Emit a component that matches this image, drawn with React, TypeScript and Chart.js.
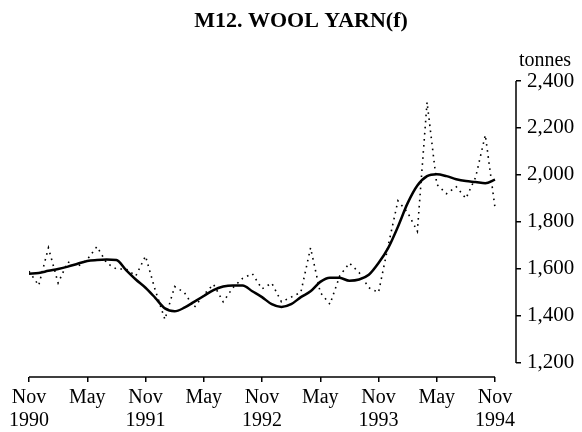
import React, { useEffect, useRef } from "react";
import { Chart, registerables } from "chart.js";

Chart.register(...registerables);

const chartTitle = "M12. WOOL YARN(f)";
const unitLabel = "tonnes";

// Monthly values, Nov 1990 .. Nov 1994 (index 0 .. 48)
const originalSeries = [
  1590, 1530, 1690, 1540, 1630, 1610, 1640, 1695, 1625, 1600, 1600, 1570,
  1655, 1510, 1385, 1525, 1500, 1435, 1490, 1535, 1460, 1520, 1560, 1580,
  1515, 1540, 1460, 1480, 1500, 1690, 1500, 1450, 1570, 1625, 1585, 1520,
  1500, 1700, 1890, 1840, 1760, 2310, 1960, 1920, 1950, 1900, 1990, 2170,
  1860,
];

const trendSeries = [
  1580, 1583, 1592, 1600, 1610, 1622, 1634, 1638, 1640, 1638, 1595, 1555,
  1520, 1477, 1432, 1420, 1435, 1460, 1485, 1510, 1525, 1530, 1530, 1505,
  1480, 1450, 1438, 1450, 1480, 1505, 1545, 1563, 1562, 1550, 1555, 1575,
  1625, 1690, 1780, 1880, 1955, 1995, 2003, 1995, 1982, 1974, 1970, 1965,
  1980,
];

const xTickValues = [0, 6, 12, 18, 24, 30, 36, 42, 48];
const xTickMonths = ["Nov", "May", "Nov", "May", "Nov", "May", "Nov", "May", "Nov"];
const xTickYears = ["1990", "", "1991", "", "1992", "", "1993", "", "1994"];
const yTickValues = [1200, 1400, 1600, 1800, 2000, 2200, 2400];

const FONT = '"Liberation Serif", "Times New Roman", serif';

const customPlugin = {
  id: "customAxesAndText",
  afterDraw(chart: any) {
    const { ctx, chartArea, scales } = chart;
    const x = scales.x;
    const y = scales.y;
    ctx.save();
    ctx.strokeStyle = "#000";
    ctx.lineWidth = 1.5;
    ctx.beginPath();
    ctx.moveTo(x.getPixelForValue(xTickValues[0]), chartArea.bottom);
    ctx.lineTo(x.getPixelForValue(xTickValues[xTickValues.length - 1]), chartArea.bottom);
    ctx.moveTo(chartArea.right, y.getPixelForValue(yTickValues[yTickValues.length - 1]));
    ctx.lineTo(chartArea.right, y.getPixelForValue(yTickValues[0]));
    ctx.stroke();

    ctx.fillStyle = "#000";
    ctx.textAlign = "center";
    ctx.textBaseline = "alphabetic";
    ctx.font = `bold 22px ${FONT}`;
    ctx.fillText(chartTitle, 301, 27);
    ctx.font = `20px ${FONT}`;
    ctx.fillText(unitLabel, chartArea.right + 29, y.getPixelForValue(2400) - 15);
    ctx.restore();
  },
};

export default function App() {
  const canvasRef = useRef<HTMLCanvasElement | null>(null);

  useEffect(() => {
    if (!canvasRef.current) return;
    const chart = new Chart(canvasRef.current, {
      type: "line",
      data: {
        datasets: [
          {
            label: "Original",
            data: originalSeries.map((v, i) => ({ x: i, y: v })),
            borderColor: "#000",
            borderWidth: 1.6,
            borderDash: [1.6, 4.5],
            pointRadius: 0,
            tension: 0,
            fill: false,
          },
          {
            label: "Trend",
            data: trendSeries.map((v, i) => ({ x: i, y: v })),
            borderColor: "#000",
            borderWidth: 2.5,
            pointRadius: 0,
            cubicInterpolationMode: "monotone",
            fill: false,
          },
        ],
      },
      options: {
        responsive: false,
        animation: false,
        layout: { padding: { top: 81, left: 29, right: 0, bottom: 0 } },
        plugins: {
          legend: { display: false },
          title: { display: false },
          tooltip: { enabled: false },
        },
        scales: {
          x: {
            type: "linear",
            min: 0,
            max: 50.16,
            afterBuildTicks: (scale: any) => {
              scale.ticks = xTickValues.map((v) => ({ value: v }));
            },
            afterFit: (scale: any) => {
              scale.height = 55;
            },
            border: { display: false },
            grid: {
              drawOnChartArea: false,
              drawTicks: true,
              tickLength: 5,
              color: "#000",
              lineWidth: 1.5,
            },
            ticks: {
              autoSkip: false,
              maxRotation: 0,
              padding: 4,
              color: "#000",
              font: { family: FONT, size: 20, lineHeight: 1.15 },
              callback: (value: any) => {
                const idx = xTickValues.indexOf(Number(value));
                if (idx < 0) return "";
                return [xTickMonths[idx], xTickYears[idx]];
              },
            },
          },
          y: {
            type: "linear",
            position: "right",
            min: 1140,
            max: 2400,
            afterBuildTicks: (scale: any) => {
              scale.ticks = yTickValues.map((v) => ({ value: v }));
            },
            afterFit: (scale: any) => {
              scale.width = 66;
            },
            border: { display: false },
            grid: {
              drawOnChartArea: false,
              drawTicks: true,
              tickLength: 5,
              color: "#000",
              lineWidth: 1.5,
            },
            ticks: {
              padding: 6,
              color: "#000",
              font: { family: FONT, size: 21 },
              callback: (value: any) => Number(value).toLocaleString("en-US"),
            },
          },
        },
      },
      plugins: [customPlugin],
    } as any);
    return () => chart.destroy();
  }, []);

  return (
    <div style={{ position: "absolute", left: 0, top: 0, width: 582, height: 432, background: "#fff" }}>
      <canvas ref={canvasRef} width={582} height={432} />
    </div>
  );
}
